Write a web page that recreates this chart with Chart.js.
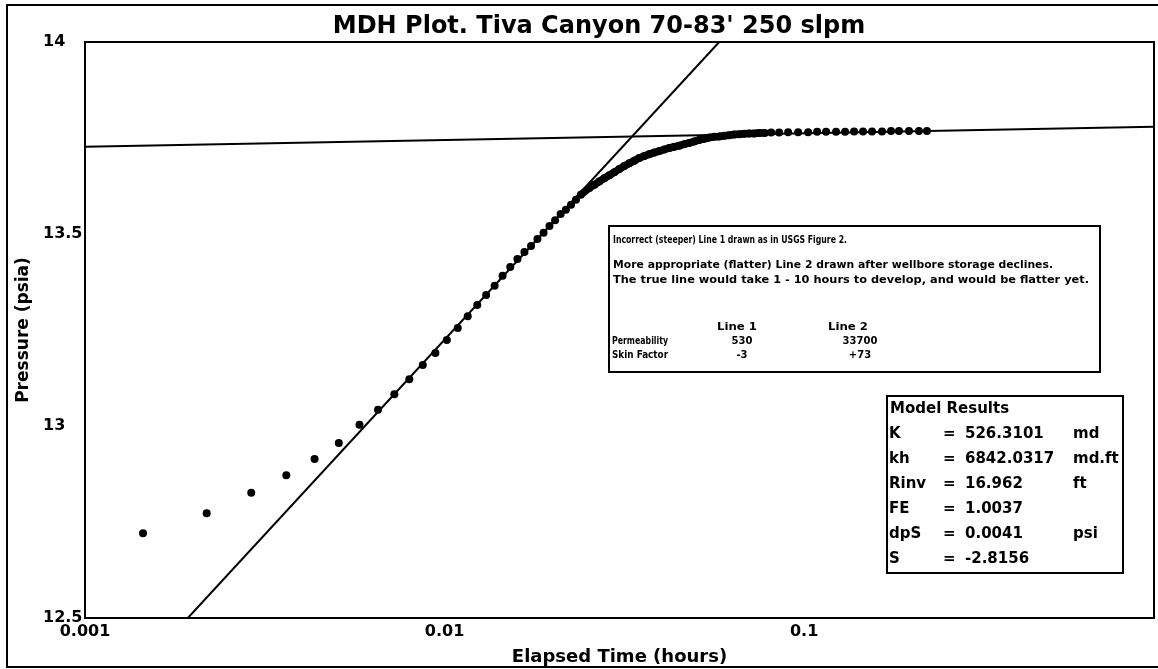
<!DOCTYPE html>
<html>
<head>
<meta charset="utf-8">
<script src="https://cdn.jsdelivr.net/npm/chart.js@4.4.0/dist/chart.umd.min.js"></script>
<style>
  html, body { margin: 0; padding: 0; background: #fff; }
  #wrap { width: 1158px; height: 669px; }
</style>
</head>
<body>
<div id="wrap"><canvas id="mdh" width="1158" height="669"></canvas></div>
<script>
// pressure build-up record (hours, psia)
var elapsedHours = [
  0.00145, 0.00218, 0.00290, 0.00363, 0.00435, 0.00508, 0.00580, 0.00653,
  0.00725, 0.00798, 0.00870, 0.00943, 0.01015, 0.01088, 0.01160, 0.01233,
  0.01305, 0.01378, 0.01450, 0.01523, 0.01595, 0.01668, 0.01740, 0.01813,
  0.01885, 0.01958, 0.02030, 0.02103, 0.02175, 0.02248, 0.02320, 0.02393,
  0.02528, 0.02610, 0.02694, 0.02782, 0.02873, 0.02966, 0.03062, 0.03162,
  0.03265, 0.03371, 0.03481, 0.03594, 0.03710, 0.03831, 0.03956, 0.04084,
  0.04217, 0.04354, 0.04496, 0.04642, 0.04793, 0.04948, 0.05109, 0.05275,
  0.05447, 0.05623, 0.05806, 0.05995, 0.06190, 0.06391, 0.06598, 0.06813,
  0.07034, 0.07263, 0.07499, 0.07776, 0.08098, 0.08523, 0.09028, 0.09624,
  0.1026, 0.1087, 0.1151, 0.1227, 0.1300, 0.1377, 0.1458, 0.1545,
  0.1647, 0.1745, 0.1836, 0.1957, 0.2086, 0.2196
];
var pressurePsia = [
  12.721, 12.773, 12.826, 12.872, 12.914, 12.956, 13.003, 13.042,
  13.083, 13.122, 13.159, 13.190, 13.224, 13.255, 13.286, 13.315,
  13.341, 13.365, 13.391, 13.414, 13.435, 13.453, 13.469, 13.487,
  13.503, 13.521, 13.536, 13.552, 13.563, 13.576, 13.589, 13.602,
  13.620, 13.628, 13.637, 13.645, 13.653, 13.661, 13.669, 13.677,
  13.684, 13.691, 13.698, 13.703, 13.708, 13.712, 13.716, 13.720,
  13.724, 13.727, 13.730, 13.734, 13.737, 13.741, 13.745, 13.748,
  13.751, 13.753, 13.754, 13.756, 13.757, 13.759, 13.760, 13.761,
  13.762, 13.762, 13.763, 13.763, 13.764, 13.764, 13.765, 13.765,
  13.765, 13.766, 13.766, 13.766, 13.766, 13.767, 13.767, 13.767,
  13.767, 13.768, 13.768, 13.768, 13.768, 13.768
];
// from here on the samples overlap into a solid band
var bandFrom = 0.0239;
var bandTo = 0.0778;

// semilog straight lines
var line1Hours = [0.001932, 0.05806];
var line1Psia = [12.5, 14];
var line2Hours = [0.001, 0.94];
var line2Psia = [13.727, 13.779];

var xTickValues = [0.001, 0.01, 0.1];
var xTickLabels = ['0.001', '0.01', '0.1'];
var yTickValues = [12.5, 13, 13.5, 14];
var yTickLabels = ['12.5', '13', '13.5', '14'];

var noteLines = [
  'Incorrect (steeper) Line 1 drawn as in USGS Figure 2.',
  'More appropriate (flatter) Line 2 drawn after wellbore storage declines.',
  'The true line would take 1 - 10 hours to develop, and would be flatter yet.'
];
var fitHeaders = ['Line 1', 'Line 2'];
var fitRows = [
  ['Permeability', '530', '33700'],
  ['Skin Factor', '-3', '+73']
];
var modelNames = ['K', 'kh', 'Rinv', 'FE', 'dpS', 'S'];
var modelValues = ['526.3101', '6842.0317', '16.962', '1.0037', '0.0041', '-2.8156'];
var modelUnits = ['md', 'md.ft', 'ft', '', 'psi', ''];

function pairs(xs, ys) {
  return xs.map(function (x, i) { return { x: x, y: ys[i] }; });
}

// text narrowed to a given width, like the condensed face of the notes
function squeezed(ctx, str, x, y, w) {
  var sx = w / ctx.measureText(str).width;
  ctx.save();
  ctx.translate(x, y);
  ctx.scale(sx, 1);
  ctx.fillText(str, 0, 0);
  ctx.restore();
}

var frames = {
  id: 'frames',
  afterDraw: function (chart) {
    var ctx = chart.ctx, a = chart.chartArea;
    ctx.save();
    ctx.strokeStyle = '#000';
    ctx.fillStyle = '#000';
    ctx.lineWidth = 2;
    ctx.strokeRect(7, 5, 1165, 662);
    ctx.strokeRect(a.left, a.top, a.right - a.left, a.bottom - a.top);

    // y axis title
    ctx.save();
    ctx.translate(24, (a.top + a.bottom) / 2);
    ctx.rotate(-Math.PI / 2);
    ctx.font = 'bold 17px "DejaVu Sans"';
    ctx.textAlign = 'center';
    ctx.textBaseline = 'middle';
    ctx.fillText('Pressure (psia)', 0, 0);
    ctx.restore();

    // note box
    ctx.fillStyle = '#fff';
    ctx.fillRect(609, 226, 491, 146);
    ctx.strokeRect(609, 226, 491, 146);
    ctx.fillStyle = '#000';
    ctx.font = 'bold 11px "DejaVu Sans"';
    ctx.textBaseline = 'middle';
    ctx.textAlign = 'left';
    squeezed(ctx, noteLines[0], 613, 240, 234);
    squeezed(ctx, noteLines[1], 613, 265, 440);
    squeezed(ctx, noteLines[2], 613, 280, 476);
    ctx.font = 'bold 10px "DejaVu Sans"';
    squeezed(ctx, fitHeaders[0], 717, 327, 40);
    squeezed(ctx, fitHeaders[1], 828, 327, 40);
    fitRows.forEach(function (r, i) {
      var y = 341 + i * 14;
      squeezed(ctx, r[0], 612, y, 56);
      ctx.textAlign = 'center';
      ctx.fillText(r[1], 742, y);
      ctx.fillText(r[2], 860, y);
      ctx.textAlign = 'left';
    });

    // model results box
    ctx.fillStyle = '#fff';
    ctx.fillRect(887, 396, 236, 177);
    ctx.strokeRect(887, 396, 236, 177);
    ctx.fillStyle = '#000';
    ctx.textAlign = 'left';
    ctx.font = 'bold 15px "DejaVu Sans"';
    ctx.fillText('Model Results', 890, 409);
    modelNames.forEach(function (n, i) {
      var y = 434 + i * 25;
      ctx.fillText(n, 889, y);
      ctx.fillText('=', 943, y);
      ctx.fillText(modelValues[i], 965, y);
      if (modelUnits[i]) ctx.fillText(modelUnits[i], 1073, y);
    });
    ctx.restore();
  }
};

new Chart(document.getElementById('mdh'), {
  type: 'scatter',
  data: {
    datasets: [
      {
        label: 'Pressure',
        data: pairs(elapsedHours, pressurePsia),
        pointRadius: 4,
        pointBackgroundColor: '#000',
        pointBorderWidth: 0,
        showLine: true,
        borderWidth: 7.5,
        borderColor: 'rgba(0,0,0,0)',
        segment: {
          borderColor: function (c) {
            var inBand = c.p0.parsed.x >= bandFrom && c.p1.parsed.x <= bandTo;
            return inBand ? '#000' : 'rgba(0,0,0,0)';
          }
        }
      },
      {
        label: 'Line 1',
        data: pairs(line1Hours, line1Psia),
        showLine: true,
        borderColor: '#000',
        borderWidth: 2,
        pointRadius: 0
      },
      {
        label: 'Line 2',
        data: pairs(line2Hours, line2Psia),
        showLine: true,
        borderColor: '#000',
        borderWidth: 2,
        pointRadius: 0
      }
    ]
  },
  options: {
    responsive: false,
    animation: false,
    layout: { padding: { left: 43, right: 3, top: 0, bottom: 0 } },
    plugins: {
      legend: { display: false },
      tooltip: { enabled: false },
      title: {
        display: true,
        text: "MDH Plot. Tiva Canyon 70-83' 250 slpm",
        color: '#000',
        font: { family: 'DejaVu Sans', size: 24, weight: 'bold' },
        padding: { top: 12, bottom: 1.2 }
      }
    },
    scales: {
      x: {
        type: 'logarithmic',
        min: 0.001,
        max: 0.94,
        grid: { display: false, drawTicks: false },
        border: { display: false },
        afterBuildTicks: function (s) {
          s.ticks = xTickValues.map(function (v) { return { value: v }; });
        },
        afterFit: function (s) { s.height = 51; },
        ticks: {
          autoSkip: false,
          maxRotation: 0,
          padding: 4,
          color: '#000',
          font: { family: 'DejaVu Sans', size: 16, weight: 'bold' },
          callback: function (v) {
            var i = xTickValues.indexOf(v);
            return i < 0 ? '' : xTickLabels[i];
          }
        },
        title: {
          display: true,
          text: 'Elapsed Time (hours)',
          color: '#000',
          font: { family: 'DejaVu Sans', size: 18, weight: 'bold' },
          padding: { top: 0, bottom: 1 }
        }
      },
      y: {
        min: 12.5,
        max: 14,
        grid: { display: false, drawTicks: false },
        border: { display: false },
        afterBuildTicks: function (s) {
          s.ticks = yTickValues.map(function (v) { return { value: v }; });
        },
        afterFit: function (s) { s.width = 42; },
        ticks: {
          crossAlign: 'far',
          padding: 0,
          color: '#000',
          font: { family: 'DejaVu Sans', size: 16, weight: 'bold' },
          callback: function (v) {
            var i = yTickValues.indexOf(v);
            return i < 0 ? '' : yTickLabels[i];
          }
        }
      }
    }
  },
  plugins: [frames]
});
</script>
</body>
</html>
